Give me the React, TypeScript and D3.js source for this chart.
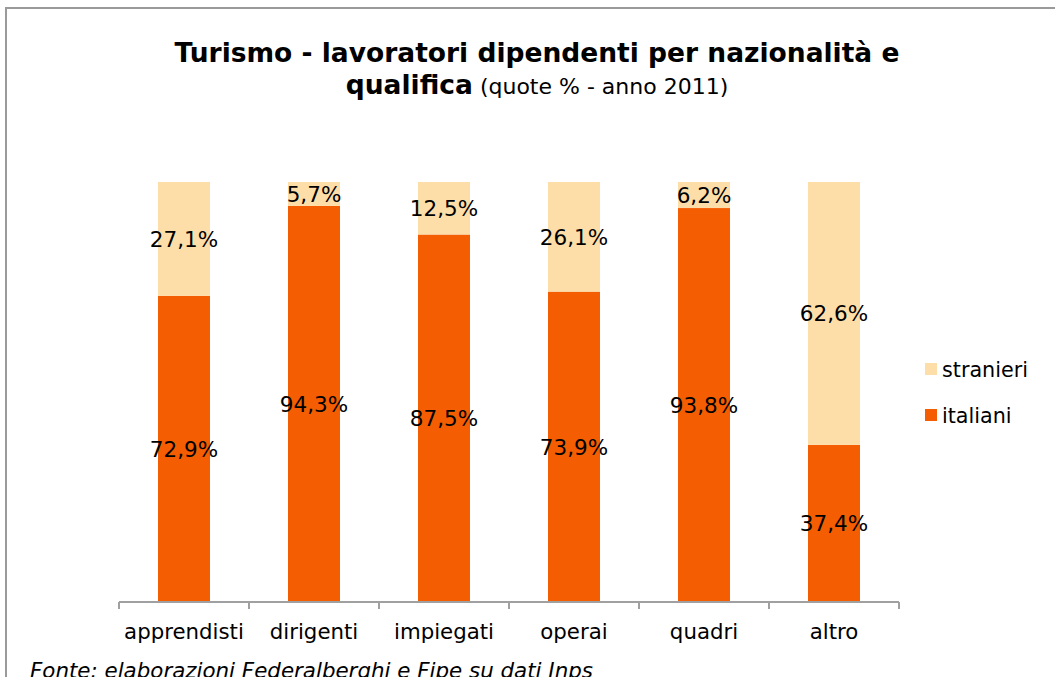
import React from "react";
import * as d3 from "d3";

const categories = ["apprendisti", "dirigenti", "impiegati", "operai", "quadri", "altro"];
const italiani = [72.9, 94.3, 87.5, 73.9, 93.8, 37.4];
const stranieri = [27.1, 5.7, 12.5, 26.1, 6.2, 62.6];
const seriesNames = ["italiani", "stranieri"];
const seriesColors = ["#F55D02", "#FEDEA8"];

const W = 1055;
const H = 677;
const FONT = "Verdana, 'DejaVu Sans', sans-serif";

const fmt = (v: number) => v.toFixed(1).replace(".", ",") + "%";

const App: React.FC = () => {
  const x = d3.scaleBand<string>().domain(categories).range([119, 899]).paddingInner(0.6).paddingOuter(0.3);
  const y = d3.scaleLinear().domain([0, 100]).range([602, 182]);

  const rows = categories.map((c, i) => ({ cat: c, italiani: italiani[i], stranieri: stranieri[i] }));
  const stack = d3.stack<any>().keys(seriesNames)(rows);

  // tick marks sit on the band boundaries
  const edges = d3.range(categories.length + 1).map((i) => 119 + i * (780 / categories.length));

  return (
    <svg width={W} height={H} style={{ position: "absolute", left: 0, top: 0 }} fontFamily={FONT}>
      <rect x={0} y={0} width={W} height={H} fill="#fff" />
      <rect x={6} y={8} width={W + 20} height={H + 20} fill="none" stroke="#9a9a9a" strokeWidth={2} />

      <text x={537} y={62} textAnchor="middle" fontSize={26.5} fontWeight="bold" fill="#000">
        Turismo - lavoratori dipendenti per nazionalità e
      </text>
      <text x={537} y={94} textAnchor="middle" fill="#000">
        <tspan fontSize={26.5} fontWeight="bold">qualifica</tspan>
        <tspan fontSize={22}> (quote % - anno 2011)</tspan>
      </text>

      {stack.map((s, si) => (
        <g key={seriesNames[si]}>
          {s.map((d, i) => (
            <rect
              key={categories[i]}
              x={x(categories[i])}
              y={y(d[1])}
              width={x.bandwidth()}
              height={y(d[0]) - y(d[1])}
              fill={seriesColors[si]}
            />
          ))}
        </g>
      ))}
      {stack.map((s, si) => (
        <g key={"lbl" + seriesNames[si]}>
          {s.map((d, i) => (
            <text
              key={categories[i]}
              x={(x(categories[i]) as number) + x.bandwidth() / 2}
              y={(y(d[0]) + y(d[1])) / 2}
              dy="0.36em"
              textAnchor="middle"
              fontSize={21.5}
              fill="#000"
            >
              {fmt(d[1] - d[0])}
            </text>
          ))}
        </g>
      ))}

      <line x1={119} x2={899} y1={602} y2={602} stroke="#a0a0a0" strokeWidth={2} />
      {edges.map((e, i) => (
        <line key={i} x1={e} x2={e} y1={602} y2={609} stroke="#a0a0a0" strokeWidth={2} />
      ))}
      {categories.map((c) => (
        <text
          key={c}
          x={(x(c) as number) + x.bandwidth() / 2}
          y={639}
          textAnchor="middle"
          fontSize={21.3}
          fill="#000"
        >
          {c}
        </text>
      ))}

      {[1, 0].map((si, k) => (
        <g key={seriesNames[si]} transform={`translate(925, ${377 + k * 46})`}>
          <rect x={0} y={-14} width={12} height={12} fill={seriesColors[si]} />
          <text x={17} y={0} fontSize={20.7} fill="#000">
            {seriesNames[si]}
          </text>
        </g>
      ))}

      <text x={30} y={678} fontSize={21.4} fontStyle="italic" fill="#000">
        Fonte: elaborazioni Federalberghi e Fipe su dati Inps
      </text>
    </svg>
  );
};

export default App;
